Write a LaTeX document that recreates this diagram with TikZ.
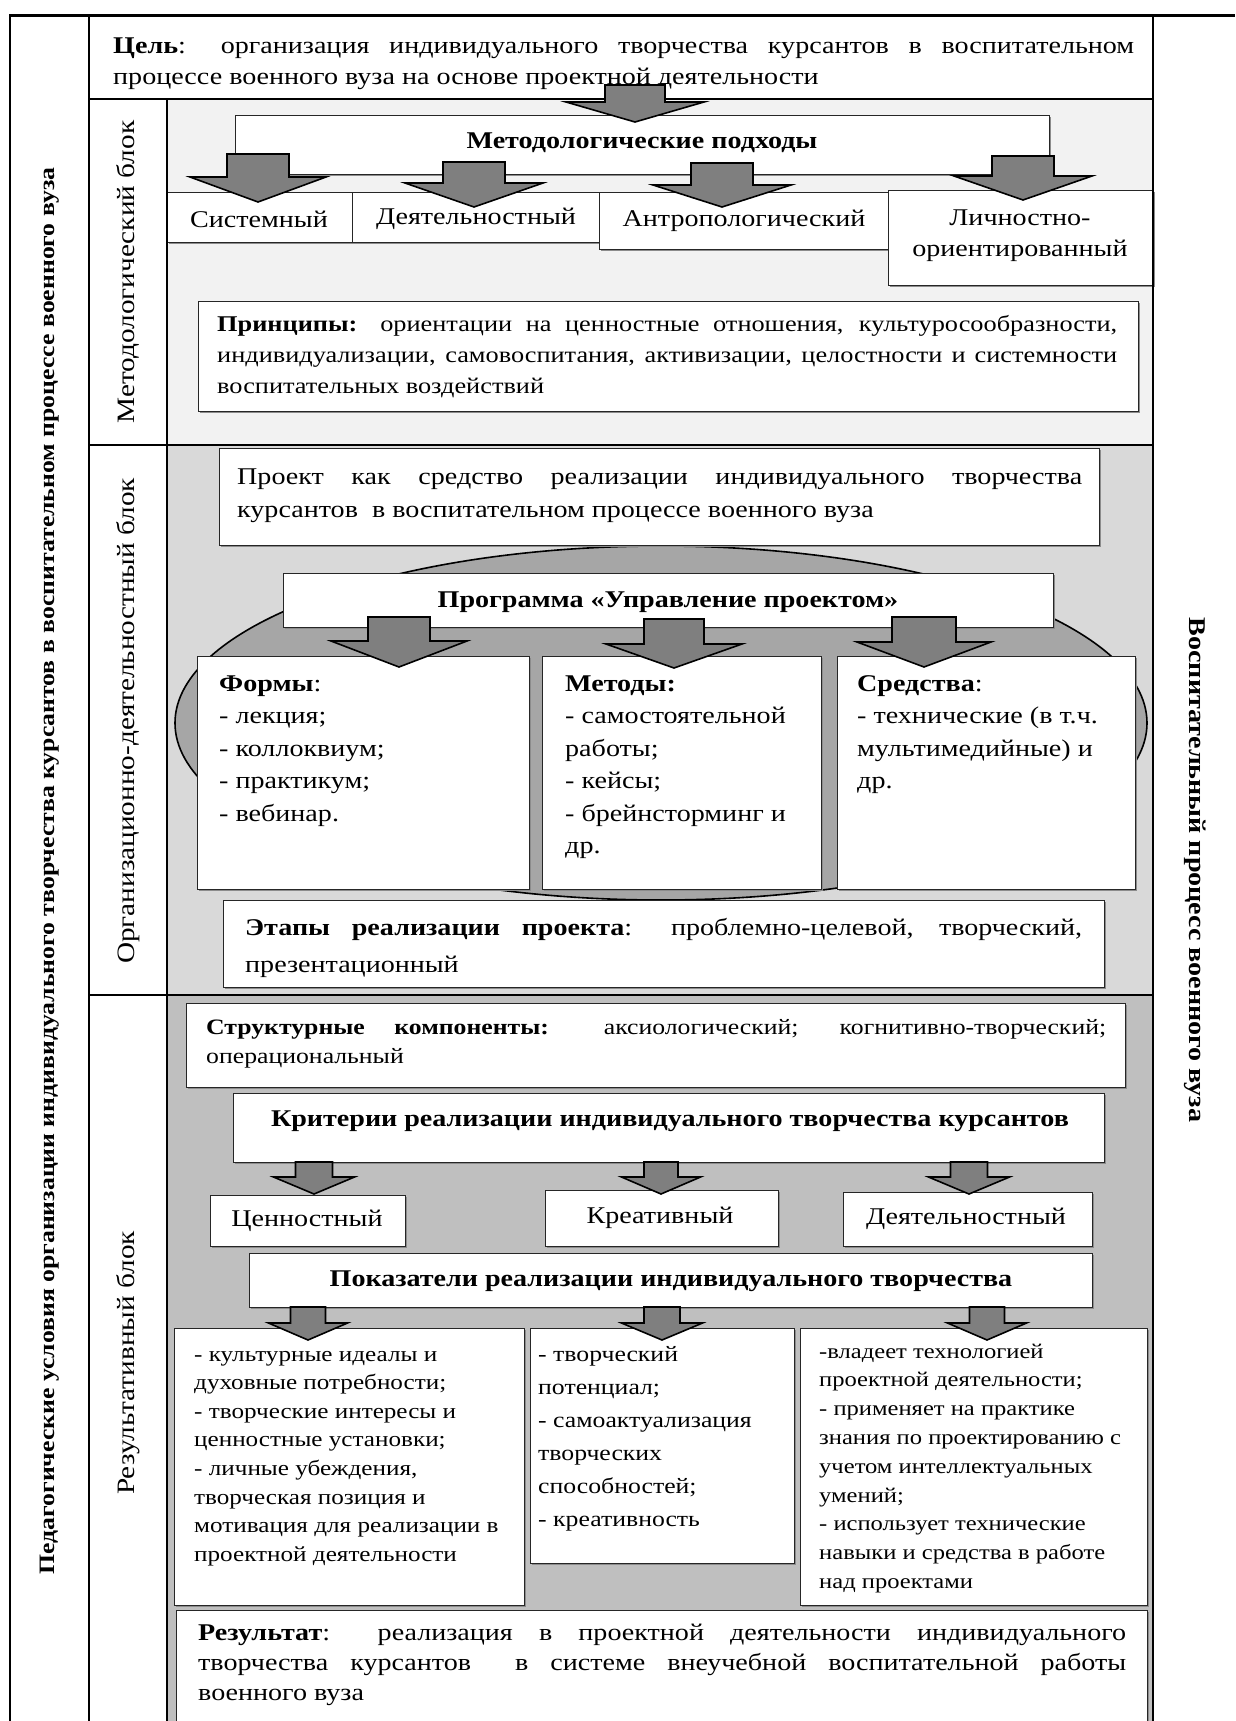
\documentclass[tikz,border=0pt]{standalone}
\usepackage{fontspec}
\setmainfont{Liberation Serif}[FakeStretch=1.17]
\usetikzlibrary{shapes.geometric,shadows}
\definecolor{bgA}{HTML}{F2F2F2}
\definecolor{bgB}{HTML}{D9D9D9}
\definecolor{bgC}{HTML}{BFBFBF}
\definecolor{ellC}{HTML}{A6A6A6}
\definecolor{arrC}{HTML}{7F7F7F}
\newcommand\fsz[2]{\fontsize{#1}{#2}\selectfont}
\newcommand\jl[1]{\makebox[\linewidth][s]{#1}}
\newcommand\barrow[6]{\draw[arrshape] (#1-#5,#2) -- (#1+#5,#2) -- (#1+#5,#3) -- (#1+#6,#3) -- (#1,#4) -- (#1-#6,#3) -- (#1-#5,#3) -- cycle;}
\newcommand\mkbox[5]{\node[bx, anchor=north west, minimum width={#4-#2}, minimum height={#5-#3}] (#1) at (#2,#3) {};}
\begin{document}
\begin{tikzpicture}[x=1pt,y=-1pt,
  bx/.style={draw=black!85, fill=white, line width=1.3pt, inner sep=0pt,
    drop shadow={shadow xshift=1.6pt, shadow yshift=-1.6pt, fill=black!45, opacity=1}},
  frm/.style={line width=2.6pt, draw=black},
  arrshape/.style={fill=arrC, draw=black, line width=1.6pt, line join=miter},
  tx/.style={anchor=base west, inner sep=0pt},
  ct/.style={anchor=center, inner sep=0pt},
  body/.style={font=\fsz{24}{31}},
  hdr/.style={font=\fsz{24}{30}\bfseries}]
\useasboundingbox (0,0) rectangle (1235,1721);
\fill[white] (0,0) rectangle (1235,1721);
% block backgrounds
\fill[bgA] (167,99) rectangle (1153,445);
\fill[bgB] (167,445) rectangle (1153,995);
\fill[bgC] (167,995) rectangle (1153,1721);
% ellipse of the programme
\node[ellipse, draw=black, line width=1.6pt, fill=ellC, minimum width=972pt, minimum height=354pt, inner sep=0pt] (ell) at (661,723) {};
% --- methodological block
\mkbox{mhd}{235}{115}{1049}{174}
\mkbox{a1}{167}{192}{352}{242}
\mkbox{a2}{352}{192}{599}{242}
\mkbox{a3}{599}{192}{888}{249}
\mkbox{a4}{888}{190}{1153}{285}
\mkbox{pr}{198}{301}{1138}{411}
% --- organisational block
\mkbox{proj}{219}{448}{1099}{545}
\mkbox{prog}{283}{573}{1053}{627}
\mkbox{fo}{197}{656}{529}{889}
\mkbox{me}{542}{656}{821}{889}
\mkbox{sr}{837}{656}{1135}{889}
\mkbox{et}{223}{900}{1104}{987}
% --- result block
\mkbox{st}{186}{1003}{1125}{1087}
\mkbox{kr}{233}{1093}{1104}{1162}
\mkbox{k1}{210}{1195}{405}{1246}
\mkbox{k2}{545}{1190}{778}{1246}
\mkbox{k3}{843}{1192}{1092}{1246}
\mkbox{pk}{249}{1253}{1092}{1307}
\mkbox{i1}{174}{1328}{524}{1605}
\mkbox{i2}{530}{1328}{794}{1563}
\mkbox{i3}{800}{1328}{1147}{1605}
\mkbox{res}{176}{1610}{1147}{1730}
% --- texts
\node[tx, body] (tGoal) at (113,53) {\parbox[t]{1021pt}{\jl{\textbf{Цель}: организация индивидуального творчества курсантов в воспитательном}\\процессе военного вуза на основе проектной деятельности}};
\node[ct, hdr] (tMhd) at (642,143) {Методологические подходы};
\node[ct, body] (tA1) at (259,219) {Системный};
\node[ct, body] (tA2) at (476,219) {Деятельностный};
\node[ct, body] (tA3) at (744,221) {Антропологический};
\node[ct, body, align=center] (tA4) at (1020,236) {Личностно-\\ориентированный};
\node[tx, font=\fsz{22.5}{31}] (tPr) at (217,331) {\parbox[t]{900pt}{\jl{\textbf{Принципы:} ориентации на ценностные отношения, культуросообразности,}\\\jl{индивидуализации, самовоспитания, активизации, целостности и системности}\\воспитательных воздействий}};
\node[tx, font=\fsz{24}{33}] (tProj) at (237,484) {\parbox[t]{845pt}{\jl{Проект как средство реализации индивидуального творчества}\\курсантов\ \ в воспитательном процессе военного вуза}};
\node[ct, hdr] (tProg) at (668,602) {Программа «Управление проектом»};
\node[tx, font=\fsz{24}{32.5}] (tFo) at (219,691) {\parbox[t]{300pt}{\textbf{Формы}:\\- лекция;\\- коллоквиум;\\- практикум;\\- вебинар.}};
\node[tx, font=\fsz{24}{32.5}] (tMe) at (565,691) {\parbox[t]{250pt}{\textbf{Методы:}\\- самостоятельной\\работы;\\- кейсы;\\- брейнсторминг и\\др.}};
\node[tx, font=\fsz{24}{32.5}] (tSr) at (857,691) {\parbox[t]{270pt}{\textbf{Средства}:\\- технические (в т.ч.\\мультимедийные) и\\др.}};
\node[tx, font=\fsz{24}{37}] (tEt) at (245,935) {\parbox[t]{837pt}{\jl{\textbf{Этапы реализации проекта}: проблемно-целевой, творческий,}\\презентационный}};
\node[tx, font=\fsz{22}{29}] (tSt) at (206,1034) {\parbox[t]{900pt}{\jl{\textbf{Структурные компоненты:} аксиологический; когнитивно-творческий;}\\операциональный}};
\node[ct, hdr] (tKr) at (670,1121) {Критерии реализации индивидуального творчества курсантов};
\node[ct, body] (tK1) at (307,1221) {Ценностный};
\node[ct, body] (tK2) at (660,1218) {Креативный};
\node[ct, body] (tK3) at (966,1219) {Деятельностный};
\node[ct, hdr] (tPk) at (671,1281) {Показатели реализации индивидуального творчества};
\node[tx, font=\fsz{21.5}{28.6}] (tI1) at (194,1361) {\parbox[t]{325pt}{- культурные идеалы и\\духовные потребности;\\- творческие интересы и\\ценностные установки;\\- личные убеждения,\\творческая позиция и\\мотивация для реализации в\\проектной деятельности}};
\node[tx, font=\fsz{22}{33}] (tI2) at (538,1361) {\parbox[t]{250pt}{- творческий\\потенциал;\\- самоактуализация\\творческих\\способностей;\\- креативность}};
\node[tx, font=\fsz{21}{28.8}] (tI3) at (819,1358) {\parbox[t]{325pt}{-владеет технологией\\проектной деятельности;\\- применяет на практике\\знания по проектированию с\\учетом интеллектуальных\\умений;\\- использует технические\\навыки и средства в работе\\над проектами}};
\node[tx, font=\fsz{24}{30}] (tRes) at (198,1640) {\parbox[t]{928pt}{\jl{\textbf{Результат}: реализация в проектной деятельности индивидуального}\\\jl{творчества курсантов\ \ в системе внеучебной воспитательной работы}\\военного вуза}};
% rotated labels
\node[ct, rotate=90, font=\fsz{22}{26}\bfseries] (lLeft) at (50,871) {Педагогические условия организации индивидуального творчества курсантов в воспитательном процессе военного вуза};
\node[ct, rotate=-90, font=\fsz{24}{28}\bfseries] (lRight) at (1195,870) {Воспитательный процесс военного вуза};
\node[ct, rotate=90, font=\fsz{25}{28}] (lB1) at (128,272) {Методологический блок};
\node[ct, rotate=90, font=\fsz{25}{28}] (lB2) at (128,721) {Организационно-деятельностный блок};
\node[ct, rotate=90, font=\fsz{25}{28}] (lB3) at (128,1363) {Результативный блок};
% frame lines
\draw[frm, line width=3pt] (10,15) -- (1235,15);
\draw[frm] (10,14) -- (10,1721);
\draw[frm] (89,14) -- (89,1721);
\draw[frm] (1153,14) -- (1153,1721);
\draw[frm] (89,99) -- (1153,99);
\draw[frm] (167,99) -- (167,1721);
\draw[frm] (89,445) -- (1153,445);
\draw[frm] (89,995) -- (1153,995);
% block arrows
\barrow{635}{85}{102}{122}{30}{69}
\barrow{258}{154}{177}{202}{31}{68}
\barrow{474}{162}{183}{207}{31}{69}
\barrow{722}{163}{185}{207}{31}{69}
\barrow{1023}{156}{176}{200}{31}{69}
\barrow{399}{617}{641}{667}{31}{68}
\barrow{674}{619}{644}{668}{30}{68}
\barrow{924}{617}{642}{667}{32}{67}
\barrow{314}{1162}{1177}{1194}{18.5}{40.5}
\barrow{661}{1162}{1177}{1194}{17}{39.5}
\barrow{969}{1162}{1177}{1194}{18.5}{40.5}
\barrow{308}{1307}{1323}{1340}{17.5}{39.5}
\barrow{662}{1307}{1323}{1340}{18}{40.5}
\barrow{987}{1307}{1323}{1340}{17.5}{39.5}
\end{tikzpicture}
\end{document}
